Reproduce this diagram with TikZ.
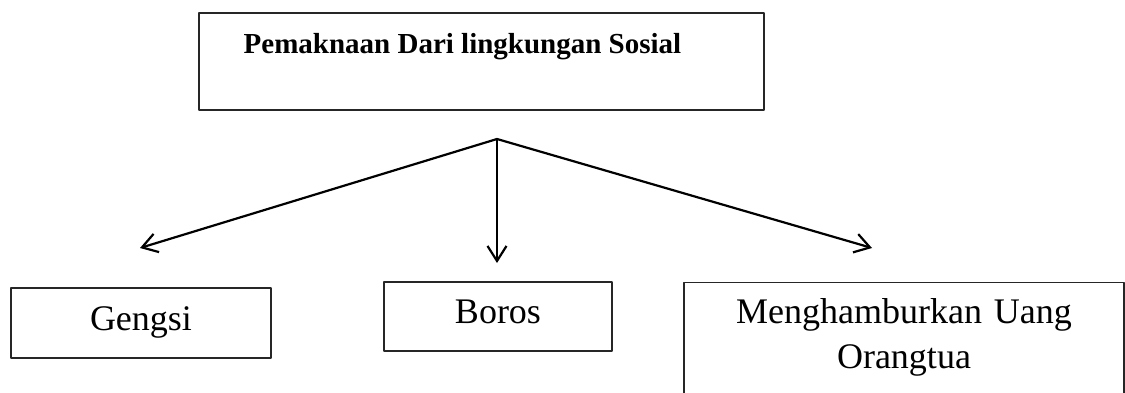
\documentclass[tikz,border=0pt]{standalone}
\usepackage{fontspec}
\setmainfont{Liberation Serif}
\usetikzlibrary{arrows.meta}

\begin{document}
\begin{tikzpicture}[line cap=round,line join=round,x=1pt,y=-1pt,
  kotak/.style={draw=black!85,line width=1.3pt,inner sep=0pt},
  panah/.style={line width=2.2pt,-{Straight Barb[length=15pt,width=19pt,line width=2.2pt]}},
  isi/.style={font=\fontsize{36}{45}\selectfont}]
\useasboundingbox (0,0) rectangle (1125,392);
% kotak atas
\node[kotak,minimum width=565pt,minimum height=97pt,text height=20pt,text depth=37pt,
  font=\fontsize{29}{34}\selectfont\bfseries] (sosial) at (481.5,61.5)
  {Pemaknaan Dari lingkungan Sosial\kern38pt};
\coordinate (cabang) at (497,139);
\coordinate (kiri) at (140,248);
\coordinate (tengah) at (497,263);
\coordinate (kanan) at (872,248);
% kotak bawah
\node[kotak,isi,minimum width=260pt,minimum height=70pt,text height=24pt,text depth=10pt] (gengsi) at (141,323) {Gengsi};
\node[kotak,isi,minimum width=228pt,minimum height=69pt,text height=24pt,text depth=10pt] (boros) at (498,316.5) {Boros};
\node[kotak,isi,anchor=north,text width=440pt,align=center,inner ysep=16pt] (uang) at (904,282) {Menghamburkan Uang\\Orangtua\\[-20pt]\mbox{}};
% panah
\draw[panah] (cabang) -- (kiri);
\draw[panah] (cabang) -- (tengah);
\draw[panah] (cabang) -- (kanan);
\end{tikzpicture}
\end{document}
